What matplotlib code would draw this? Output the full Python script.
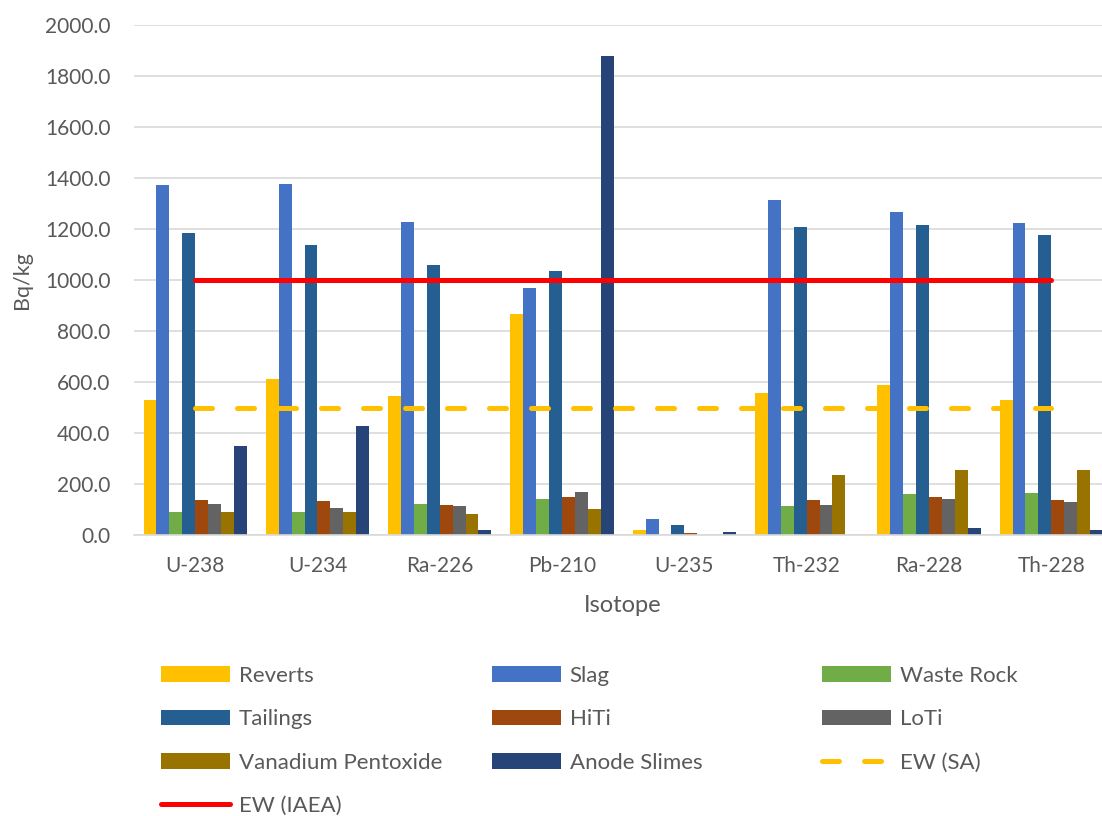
import numpy as np
import matplotlib
matplotlib.use("Agg")
import matplotlib.pyplot as plt

isotopes = ["U-238", "U-234", "Ra-226", "Pb-210", "U-235", "Th-232", "Ra-228", "Th-228"]

reverts = [530, 611, 546, 868, 21, 558, 588, 529]
slag = [1372, 1378, 1228, 969, 63, 1313, 1268, 1224]
waste_rock = [91, 91, 124, 144, 2, 114, 162, 165]
tailings = [1185, 1139, 1059, 1037, 39, 1210, 1215, 1178]
hiti = [137, 133, 118, 151, 8, 137, 151, 137]
loti = [121, 106, 114, 168, 2, 119, 141, 131]
vanadium = [91, 91, 83, 103, 3, 235, 255, 255]
anode = [350, 430, 20, 1878, 13, 0, 29, 20]

ew_sa = [500, 500, 500, 500, 500, 500, 500, 500]
ew_iaea = [1000, 1000, 1000, 1000, 1000, 1000, 1000, 1000]

series = [
    ("Reverts", reverts, "#FFC000"),
    ("Slag", slag, "#4472C4"),
    ("Waste Rock", waste_rock, "#70AD47"),
    ("Tailings", tailings, "#255E91"),
    ("HiTi", hiti, "#9E480E"),
    ("LoTi", loti, "#636363"),
    ("Vanadium Pentoxide", vanadium, "#997300"),
    ("Anode Slimes", anode, "#264478"),
]

plt.rcParams["font.family"] = ["Lato", "DejaVu Sans"]
grey = "#595959"

fig = plt.figure(figsize=(11.02, 8.16), dpi=100)
ax = fig.add_axes([134 / 1102, (816 - 535.3) / 816, 968 / 1102, 510.3 / 816])

x = np.arange(len(isotopes))
w = 12.9 / 122.3
handles = {}
for j, (name, vals, col) in enumerate(series):
    handles[name] = ax.bar(x + (j - 3.5) * w, vals, width=w, color=col, zorder=2)

handles["EW (SA)"], = ax.plot(x, ew_sa, color="#FFC000", lw=3.6, dashes=(3.4, 5.0),
                              dash_capstyle="round", zorder=3)
handles["EW (IAEA)"], = ax.plot(x, ew_iaea, color="#FF0000", lw=3.6,
                                solid_capstyle="round", zorder=4)

ax.set_xlim(-0.5, -0.5 + 968 / 122.3)
ax.set_ylim(0, 2000)
ax.set_yticks(np.arange(0, 2001, 200))
ax.set_yticklabels([f"{v:.1f}" for v in np.arange(0, 2001, 200)])
ax.set_xticks(x)
ax.set_xticklabels(isotopes)
ax.yaxis.grid(True, color="#D9D9D9", lw=1.2, zorder=0)
ax.set_axisbelow(True)
for s in ["top", "right", "left"]:
    ax.spines[s].set_visible(False)
ax.spines["bottom"].set_color("#D9D9D9")
ax.spines["bottom"].set_linewidth(1.2)
ax.tick_params(axis="both", length=0, labelsize=15, labelcolor=grey)
ax.tick_params(axis="y", pad=17)
ax.tick_params(axis="x", pad=15)

ax.set_ylabel("Bq/kg", fontsize=15.5, color=grey)
ax.yaxis.set_label_coords((32 - 134) / 968, 0.5)
fig.text(623 / 1102, 1 - 605 / 816, "Isotope", ha="center", va="center",
         fontsize=17, color=grey)

# legend laid out as three fixed columns, like the Excel one
columns = [
    ["Reverts", "Tailings", "Vanadium Pentoxide", "EW (IAEA)"],
    ["Slag", "HiTi", "Anode Slimes"],
    ["Waste Rock", "LoTi", "EW (SA)"],
]
col_x = [161, 492, 822]
for cx, names in zip(col_x, columns):
    leg = fig.legend([handles[n] for n in names], names, loc="upper left",
                     bbox_to_anchor=(cx / 1102, 1 - 666 / 816), frameon=False,
                     fontsize=16, handlelength=3.1, handletextpad=0.4,
                     labelspacing=1.05, borderpad=0, borderaxespad=0)
    for t in leg.get_texts():
        t.set_color(grey)

fig.savefig("out.png", dpi=100)
